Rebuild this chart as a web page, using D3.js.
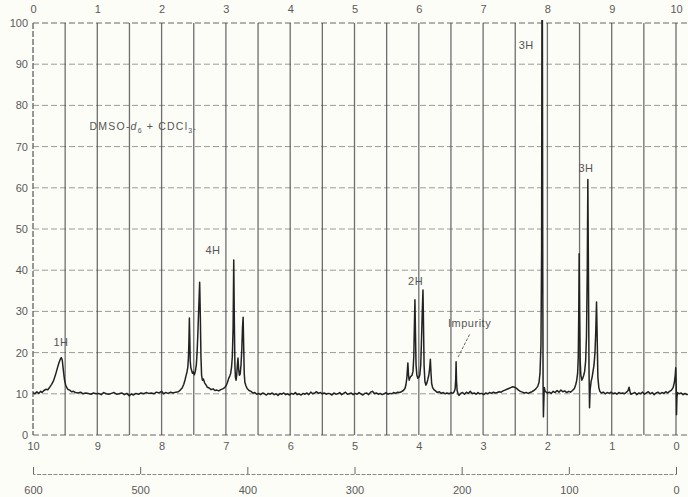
<!DOCTYPE html>
<html>
<head>
<meta charset="utf-8">
<script src="https://cdn.jsdelivr.net/npm/d3@7"></script>
<style>
  body { margin: 0; background: #fdfdf8; }
  svg { display: block; font-family: "Liberation Sans", Arial, sans-serif; }
</style>
</head>
<body>
<div id="chart-area"></div>
<script>
// chemical shift (ppm) and chart height
const trace = [
  [10.00,10.3],[9.97,10.0],[9.94,10.5],[9.91,10.1],[9.88,10.6],[9.86,10.3],
  [9.83,10.8],[9.80,11.1],[9.77,11.0],[9.74,11.6],[9.71,12.3],[9.68,13.2],[9.65,14.6],[9.62,16.3],
  [9.595,17.6],[9.575,18.4],[9.56,18.8],[9.545,18.2],[9.53,16.0],[9.51,13.4],[9.49,12.0],[9.46,11.1],
  [9.43,10.9],[9.40,10.5],[9.37,10.6],[9.34,10.3],
  [9.30,10.2],[9.26,10.4],[9.22,10.0],[9.18,10.2],[9.14,10.1],[9.10,9.9],[9.06,10.2],[9.02,10.0],
  [8.98,10.1],[8.94,9.8],[8.90,10.3],[8.86,10.0],[8.82,9.9],[8.78,10.1],[8.74,10.3],[8.70,9.9],
  [8.66,10.0],[8.62,10.2],[8.58,9.8],[8.54,10.1],[8.50,9.5],[8.47,10.0],[8.44,9.7],[8.40,10.1],
  [8.36,9.9],[8.32,10.2],[8.28,10.0],[8.24,10.3],[8.20,10.1],[8.16,10.2],[8.12,10.0],[8.08,10.4],
  [8.04,10.2],[8.00,10.6],[7.97,10.0],[7.94,10.3],[7.90,10.1],[7.86,10.4],[7.82,10.2],[7.78,10.4],
  [7.74,10.5],[7.71,10.9],[7.68,11.4],[7.655,12.3],[7.635,13.4],[7.62,14.4],[7.605,15.3],[7.592,16.5],
  [7.582,19],[7.575,23],[7.568,28.4],[7.562,24],[7.555,18],[7.545,16.3],[7.535,15.8],[7.52,15],
  [7.505,15.3],[7.49,14.6],[7.475,15.5],[7.46,17],[7.448,20],[7.435,25],[7.422,31],[7.408,37.1],
  [7.398,29],[7.388,19],[7.378,14.5],[7.365,13.3],[7.35,13.6],[7.33,12.6],[7.31,12.2],[7.29,11.6],
  [7.26,11.4],[7.23,11.0],[7.20,11.2],[7.17,10.8],[7.14,10.9],[7.11,10.7],[7.08,11.0],[7.05,11.2],
  [7.02,11.5],[6.995,12.0],[6.975,12.8],[6.955,13.8],[6.94,14.3],[6.925,15.0],[6.912,16.5],[6.90,19],
  [6.888,26],[6.878,42.5],[6.869,28],[6.86,17],[6.852,14],[6.842,13.3],[6.832,14.5],[6.822,17],
  [6.812,18.7],[6.802,16],[6.79,14.5],[6.778,14.8],[6.765,17],[6.752,21],[6.742,26],[6.732,28.6],
  [6.724,22],[6.715,15],[6.705,12.8],[6.69,12],[6.67,11.3],[6.64,10.8],[6.61,10.6],[6.58,10.2],
  [6.55,10.3],[6.52,9.9],[6.49,10.1],[6.46,9.8],[6.43,10.2],[6.40,10.0],[6.37,9.7],[6.34,10.1],
  [6.31,9.9],[6.28,10.2],[6.25,9.8],[6.22,10.0],[6.19,9.6],[6.16,10.1],[6.13,9.9],[6.10,10.2],
  [6.07,9.8],[6.04,10.0],[6.01,9.7],[5.98,10.1],[5.95,9.9],[5.92,10.3],[5.89,9.8],[5.86,10.0],
  [5.83,9.7],[5.80,10.1],[5.77,9.9],[5.74,10.2],[5.71,9.8],[5.68,10.4],[5.65,10.0],[5.62,10.2],
  [5.59,10.5],[5.56,10.1],[5.53,10.3],[5.50,10.0],[5.47,10.2],[5.44,9.9],[5.41,10.1],[5.38,10.0],
  [5.35,9.7],[5.32,10.2],[5.29,9.9],[5.26,10.0],[5.23,10.3],[5.20,9.8],[5.17,10.1],[5.14,10.4],
  [5.11,9.9],[5.08,10.0],[5.05,10.2],[5.02,9.8],[4.99,10.1],[4.96,9.9],[4.93,10.3],[4.90,10.0],
  [4.87,9.7],[4.84,10.1],[4.81,10.2],[4.78,9.8],[4.75,10.4],[4.72,10.6],[4.69,10.0],[4.66,10.2],
  [4.63,9.9],[4.60,10.1],[4.57,9.8],[4.54,10.0],[4.51,10.3],[4.48,9.9],[4.45,10.1],[4.42,10.0],
  [4.39,10.3],[4.36,10.1],[4.33,10.4],[4.30,10.3],[4.27,10.5],[4.24,10.8],[4.215,11.3],[4.20,12.2],
  [4.185,14],[4.17,17.5],[4.16,14.5],[4.15,13.3],[4.14,13.8],[4.125,14.2],[4.105,14.5],[4.09,15.5],
  [4.078,19],[4.068,27],[4.06,32.8],[4.052,25],[4.043,17],[4.03,14.5],[4.015,13.8],[4.00,14],
  [3.985,14.5],[3.97,17],[3.958,23],[3.946,30],[3.935,35.2],[3.927,27],[3.918,17],[3.905,13],
  [3.89,12.1],[3.875,12.6],[3.86,13.5],[3.845,14.5],[3.832,16],[3.82,18.4],[3.81,15],[3.80,12.5],
  [3.785,11.5],[3.765,11.0],[3.74,10.7],[3.71,10.3],[3.68,10.5],[3.65,10.1],[3.62,10.3],[3.59,10.0],
  [3.56,10.2],[3.53,10.0],[3.50,10.3],[3.47,10.1],[3.45,10.5],[3.435,11.2],[3.426,13.5],[3.42,17.8],
  [3.413,13],[3.404,10.8],[3.39,10.0],[3.375,9.6],[3.35,10.1],[3.32,10.3],[3.29,9.9],[3.26,10.4],
  [3.23,10.1],[3.20,10.6],[3.17,10.0],[3.14,10.2],[3.11,9.9],[3.08,10.3],[3.05,10.0],[3.02,10.1],
  [2.99,9.8],[2.96,10.2],[2.93,10.0],[2.90,10.3],[2.87,10.1],[2.84,10.4],[2.81,10.2],[2.78,10.3],
  [2.75,10.5],[2.72,10.4],[2.69,10.7],[2.66,10.9],[2.63,11.1],[2.60,11.3],[2.57,11.5],[2.54,11.7],
  [2.51,11.6],[2.48,11.3],[2.45,10.9],[2.42,10.6],[2.39,10.4],[2.36,10.2],[2.33,10.3],[2.30,10.1],
  [2.27,10.3],[2.24,10.5],[2.21,10.8],[2.18,11.2],[2.15,11.8],[2.13,12.8],[2.115,15],[2.10,22],
  [2.09,45],[2.085,101],[2.078,101],[2.072,40],[2.067,12],[2.062,4.4],[2.056,8],[2.048,11.5],
  [2.04,10.8],[2.02,10.4],[2.00,10.2],[1.97,10.4],[1.94,10.1],[1.91,10.6],[1.88,10.3],[1.85,10.8],
  [1.82,10.4],[1.79,10.9],[1.76,10.5],[1.73,10.7],[1.70,10.3],[1.67,10.6],[1.64,10.4],[1.61,10.8],
  [1.58,11.3],[1.56,12.2],[1.545,13.2],[1.53,15],[1.52,19],[1.512,30],[1.506,44],[1.499,30],
  [1.49,18],[1.48,14.5],[1.465,13.3],[1.45,13.8],[1.435,14.5],[1.42,15.5],[1.405,18],[1.392,24],
  [1.38,40],[1.371,62],[1.362,40],[1.353,16],[1.345,6.6],[1.335,11],[1.32,13],[1.305,14],
  [1.29,15.5],[1.275,17],[1.26,20],[1.248,25],[1.236,32.3],[1.226,24],[1.215,14],[1.20,11.5],
  [1.185,10.6],[1.16,10.2],[1.13,10.4],[1.10,10.0],[1.07,10.3],[1.04,10.1],[1.01,10.4],[0.98,10.0],
  [0.95,10.2],[0.92,9.9],[0.89,10.3],[0.86,10.1],[0.83,10.2],[0.80,10.0],[0.77,10.4],[0.745,10.8],
  [0.73,11.6],[0.715,10.5],[0.70,9.9],[0.67,10.1],[0.64,10.3],[0.61,9.8],[0.58,10.2],[0.55,10.0],
  [0.52,10.4],[0.49,9.9],[0.46,10.2],[0.43,10.5],[0.40,10.0],[0.37,10.3],[0.34,9.8],[0.31,10.2],
  [0.28,10.4],[0.25,10.0],[0.22,10.3],[0.19,10.1],[0.16,10.5],[0.13,10.2],[0.10,10.6],[0.07,10.9],
  [0.045,11.5],[0.025,12.8],[0.012,14.5],[0.004,16.3],[-0.003,12],[-0.008,4.9],[-0.014,9],[-0.022,10.3],
  [-0.05,10.0],[-0.08,10.2],[-0.11,9.8],[-0.14,10.1],[-0.17,9.8],[-0.185,9.9]
]

const yTicks = [0, 10, 20, 30, 40, 50, 60, 70, 80, 90, 100]
const ppmTicks = [10, 9, 8, 7, 6, 5, 4, 3, 2, 1, 0]
const topTicks = [0, 1, 2, 3, 4, 5, 6, 7, 8, 9, 10]
const hzTicks = [600, 500, 400, 300, 200, 100, 0]
const gridPpm = [9.5, 9, 8.5, 8, 7.5, 7, 6.5, 6, 5.5, 5, 4.5, 4, 3.5, 3, 2.5, 2, 1.5, 1, 0.5, 0]

const labels = [
  { text: "1H", ppm: 9.565, val: 22.6 },
  { text: "4H", ppm: 7.2, val: 44.8 },
  { text: "2H", ppm: 4.05, val: 37.4 },
  { text: "Impurity", ppm: 3.21, val: 27.2 },
  { text: "3H", ppm: 2.33, val: 94.6 },
  { text: "3H", ppm: 1.4, val: 64.8 }
]
const pointer = [[3.21, 24.4], [3.39, 18.9]]

const WIDTH = 688
const HEIGHT = 497

const svg = d3.select("#chart-area").append("svg")
  .attr("width", WIDTH)
  .attr("height", HEIGHT)

// Scales
const x = d3.scaleLinear().domain([10, 0]).range([33, 676])
const y = d3.scaleLinear().domain([0, 100]).range([435, 23])
const xTop = d3.scaleLinear().domain([0, 10]).range([33, 676])
const xHz = d3.scaleLinear().domain([600, 0]).range([33, 676])
const xEnd = x(-0.19)

svg.append("rect").attr("width", WIDTH).attr("height", HEIGHT).attr("fill", "#fdfdf8")

// Chart paper grid
svg.append("g").selectAll("line")
  .data(yTicks)
  .enter().append("line")
  .attr("x1", x(10)).attr("x2", xEnd)
  .attr("y1", d => y(d)).attr("y2", d => y(d))
  .attr("stroke", d => (d === 0 || d === 100) ? "#666" : "#9a9a9a")
  .attr("stroke-width", 1)
  .attr("stroke-dasharray", "6,3")

svg.append("g").selectAll("line")
  .data(gridPpm)
  .enter().append("line")
  .attr("x1", d => x(d)).attr("x2", d => x(d))
  .attr("y1", y(100)).attr("y2", y(0))
  .attr("stroke", "#4a4a4a")
  .attr("stroke-opacity", 0.8)
  .attr("stroke-width", 1.3)

svg.append("line")
  .attr("x1", x(10)).attr("x2", x(10))
  .attr("y1", y(100)).attr("y2", y(0))
  .attr("stroke", "#555")
  .attr("stroke-width", 1.2)
  .attr("stroke-dasharray", "6,2")

// Axes
const styleAxis = g => {
  g.select(".domain").remove()
  g.selectAll("text").attr("fill", "#5a5a5a").attr("font-size", "11px")
}

svg.append("g")
  .attr("transform", `translate(0, ${y(100)})`)
  .call(d3.axisTop(xTop).tickValues(topTicks).tickSize(0).tickPadding(10).tickFormat(d3.format("d")))
  .call(styleAxis)

svg.append("g")
  .attr("transform", `translate(${x(10)}, 0)`)
  .call(d3.axisLeft(y).tickValues(yTicks).tickSize(0).tickPadding(5).tickFormat(d3.format("d")))
  .call(styleAxis)

svg.append("g")
  .attr("transform", `translate(0, ${y(0)})`)
  .call(d3.axisBottom(x).tickValues(ppmTicks).tickSize(0).tickPadding(7).tickFormat(d3.format("d")))
  .call(styleAxis)

const hzAxis = svg.append("g")
  .attr("transform", "translate(0, 474)")
  .call(d3.axisBottom(xHz).tickValues(hzTicks).tickSizeInner(-7).tickSizeOuter(-7).tickPadding(12).tickFormat(d3.format("d")))
hzAxis.select(".domain").attr("stroke", "#8a8a8a").attr("stroke-dasharray", "4,1.5")
hzAxis.selectAll(".tick line").attr("stroke", "#666")
hzAxis.selectAll("text").attr("fill", "#5a5a5a").attr("font-size", "11px")

// Spectrum trace
svg.append("clipPath").attr("id", "clip")
  .append("rect").attr("x", 0).attr("y", y(100) - 3).attr("width", WIDTH).attr("height", y(0) - y(100) + 3)

const line = d3.line()
  .x(d => x(d[0]))
  .y(d => y(d[1]))

svg.append("path")
  .datum(trace)
  .attr("clip-path", "url(#clip)")
  .attr("d", line)
  .attr("fill", "none")
  .attr("stroke", "#222")
  .attr("stroke-width", 1.5)
  .attr("stroke-linejoin", "round")

// Annotations
const solvent = svg.append("text")
  .attr("x", x(9.12))
  .attr("y", y(74.8))
  .attr("dy", "0.35em")
  .attr("font-size", "10.5px")
  .attr("letter-spacing", "1.2px")
  .attr("fill", "#555")
solvent.append("tspan").text("DMSO-")
solvent.append("tspan").attr("font-style", "italic").text("d")
solvent.append("tspan").attr("font-size", "7px").attr("dy", "3").text("6")
solvent.append("tspan").attr("dy", "-3").text(" + CDCl")
solvent.append("tspan").attr("font-size", "7px").attr("dy", "3").text("3")
solvent.append("tspan").attr("dy", "-3").text(".")

svg.append("g").selectAll("text")
  .data(labels)
  .enter().append("text")
  .attr("x", d => x(d.ppm))
  .attr("y", d => y(d.val))
  .attr("dy", "0.35em")
  .attr("text-anchor", "middle")
  .attr("font-size", "11px")
  .attr("letter-spacing", "0.5px")
  .attr("fill", "#555")
  .text(d => d.text)

svg.append("line")
  .attr("x1", x(pointer[0][0])).attr("y1", y(pointer[0][1]))
  .attr("x2", x(pointer[1][0])).attr("y2", y(pointer[1][1]))
  .attr("stroke", "#666")
  .attr("stroke-width", 1)
  .attr("stroke-dasharray", "3,1.5")
</script>
</body>
</html>
